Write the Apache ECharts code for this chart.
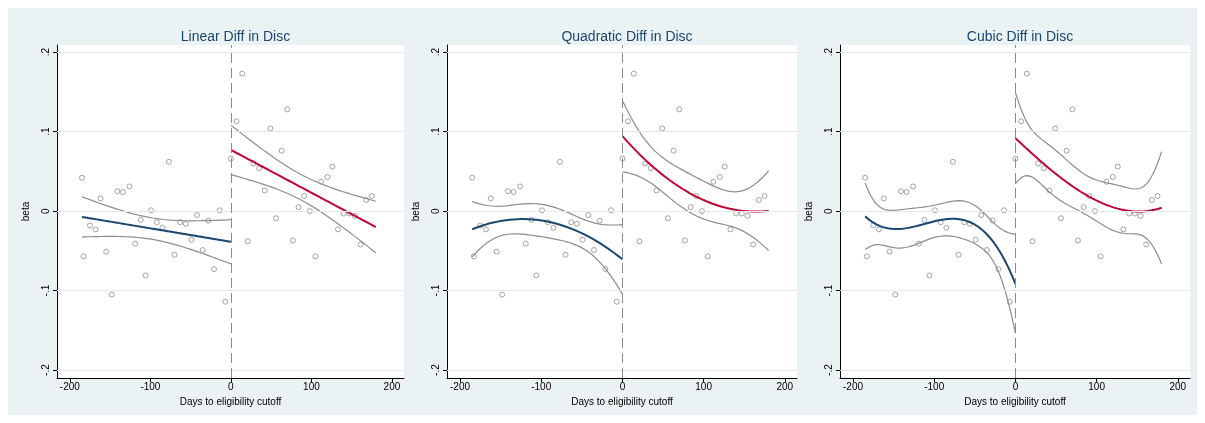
<!DOCTYPE html>
<html><head><meta charset="utf-8">
<script src="https://cdn.jsdelivr.net/npm/echarts@6/dist/echarts.min.js"></script>
<style>html,body{margin:0;padding:0;background:#fff}#c{width:1205px;height:423px}</style>
</head><body><div id="c"></div>
<script>
// binned days and estimated betas
const leftDays = [-185,-183,-175,-168,-162,-155,-148,-141,-134,-126,-119,-112,-106,-99,-92,-85,-77,-70,-63,-56,-49,-42,-35,-28,-21,-14,-7];
const leftBeta = [0.042,-0.057,-0.018,-0.023,0.016,-0.051,-0.105,0.025,0.024,0.031,-0.041,-0.011,-0.081,0.001,-0.014,-0.021,0.062,-0.055,-0.014,-0.016,-0.036,-0.005,-0.049,-0.012,-0.073,0.001,-0.114];
const rightDays = [0,7,14,21,28,35,42,49,56,63,70,77,84,91,98,105,112,120,126,133,140,147,154,161,168,175];
const rightBeta = [0.066,0.113,0.173,-0.038,0.060,0.054,0.026,0.104,-0.009,0.076,0.128,-0.037,0.005,0.019,0.000,-0.057,0.037,0.043,0.056,-0.023,-0.003,-0.003,-0.006,-0.042,0.014,0.019];
const titles = ['Linear Diff in Disc','Quadratic Diff in Disc','Cubic Diff in Disc'];
const yTicks = [-0.2,-0.1,0,0.1,0.2];
const xTicks = [-200,-100,0,100,200];

function solve(A, b) {
  const n = A.length, M = A.map((r,i)=>r.concat([b[i]]));
  for (let i=0;i<n;i++){let p=i;for(let k=i+1;k<n;k++)if(Math.abs(M[k][i])>Math.abs(M[p][i]))p=k;[M[i],M[p]]=[M[p],M[i]];
    for(let k=0;k<n;k++){if(k===i)continue;const f=M[k][i]/M[i][i];for(let j=i;j<=n;j++)M[k][j]-=f*M[i][j];}}
  return M.map((r,i)=>r[n]/r[i]);
}
function inverse(A){const n=A.length;return A.map((_,j)=>solve(A,A.map((__,i)=>i===j?1:0))).reduce((inv,col,j)=>{col.forEach((v,i)=>{inv[i][j]=v});return inv;},A.map(()=>new Array(A.length).fill(0)));}
// polynomial OLS fit with ci of the mean
function fit(xs, ys, deg, from, to) {
  const row = x => { const r=[]; for(let p=0;p<=deg;p++) r.push(Math.pow(x/100,p)); return r; };
  const X = xs.map(row), k = deg+1, n = xs.length;
  const XtX = [...Array(k)].map((_,i)=>[...Array(k)].map((_,j)=>X.reduce((s,r)=>s+r[i]*r[j],0)));
  const Xty = [...Array(k)].map((_,i)=>X.reduce((s,r,t)=>s+r[i]*ys[t],0));
  const b = solve(XtX, Xty), inv = inverse(XtX);
  const s2 = X.reduce((s,r,t)=>{const e=ys[t]-r.reduce((a,v,i)=>a+v*b[i],0);return s+e*e;},0)/(n-k);
  const tq = 1.65;
  const mid=[],lo=[],hi=[];
  for (let i=0;i<=80;i++){const x=from+(to-from)*i/80, r=row(x);
    const yh=r.reduce((a,v,j)=>a+v*b[j],0);
    let q=0; for(let a=0;a<k;a++)for(let c=0;c<k;c++)q+=r[a]*inv[a][c]*r[c];
    const se=Math.sqrt(s2*q);
    mid.push([x,yh]);lo.push([x,yh-tq*se]);hi.push([x,yh+tq*se]);}
  return {mid,lo,hi};
}
const chart = echarts.init(document.getElementById('c'));
const lefts=[57,447,840], widths=[347,350,350];
const grid=[],xAxis=[],yAxis=[],series=[],title=[];
const pts = leftDays.map((d,i)=>[d,leftBeta[i]]).concat(rightDays.map((d,i)=>[d,rightBeta[i]]));
for (let p=0;p<3;p++){
  grid.push({left:lefts[p],top:45,width:widths[p],height:333,show:true,backgroundColor:'#fff',borderWidth:0});
  title.push({text:titles[p],left:lefts[p]+widths[p]/2,top:25,textAlign:'center',textStyle:{color:'#1a476f',fontSize:14,fontWeight:'normal',fontFamily:'Liberation Sans'}});
  xAxis.push({gridIndex:p,type:'value',min:-216,max:215,name:'Days to eligibility cutoff',nameLocation:'middle',nameGap:14,
    nameTextStyle:{fontSize:10,color:'#000',fontFamily:'Liberation Sans'},
    axisLine:{onZero:false,lineStyle:{color:'#000'}},splitLine:{show:false},
    axisTick:{customValues:xTicks,length:4,lineStyle:{color:'#000'}},
    axisLabel:{customValues:xTicks,fontSize:10,color:'#000',margin:4,fontFamily:'Liberation Sans'}});
  yAxis.push({gridIndex:p,type:'value',min:-0.21,max:0.209,name:'beta',nameLocation:'middle',nameGap:26,
    nameTextStyle:{fontSize:10,color:'#000',fontFamily:'Liberation Sans'},
    axisLine:{show:true,onZero:false,lineStyle:{color:'#000'}},splitLine:{show:false},
    axisTick:{customValues:yTicks,length:4,lineStyle:{color:'#000'}},
    axisLabel:{customValues:yTicks,rotate:90,fontSize:10,color:'#000',margin:6,fontFamily:'Liberation Sans',
      formatter:v=>v===0?'0':(Math.round(v*10)/10).toString().replace('0.','.')}});
  series.push({type:'scatter',xAxisIndex:p,yAxisIndex:p,data:pts,symbolSize:5,symbol:'circle',z:3,
    itemStyle:{color:'transparent',borderColor:'#8c8c8c',borderWidth:1},
    markLine:{silent:true,symbol:'none',label:{show:false},data:
      yTicks.map(v=>({yAxis:v,lineStyle:{color:'#e1eaee',type:'solid',width:1}})).concat([{xAxis:0,lineStyle:{color:'#8c8c8c',type:[10,5],width:1}}])}});
  const L=fit(leftDays,leftBeta,p+1,-185,0), R=fit(rightDays,rightBeta,p+1,0,180);
  const line=(d,c,w)=>({type:'line',xAxisIndex:p,yAxisIndex:p,data:d,showSymbol:false,smooth:false,z:4,lineStyle:{color:c,width:w}});
  series.push(line(L.lo,'#8c8c8c',1.2),line(L.hi,'#8c8c8c',1.2),line(L.mid,'#1a476f',2),
              line(R.lo,'#8c8c8c',1.2),line(R.hi,'#8c8c8c',1.2),line(R.mid,'#c10534',2));
}
chart.setOption({animation:false,backgroundColor:'#fff',
  graphic:[{type:'rect',shape:{x:8,y:8,width:1189,height:407},style:{fill:'#eaf2f3'},z:-10,silent:true}],
  title,grid,xAxis,yAxis,series});
</script></body></html>
